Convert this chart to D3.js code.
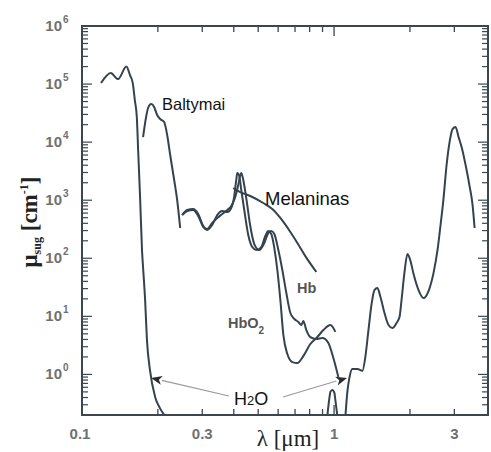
<!DOCTYPE html>
<html>
<head>
<meta charset="utf-8">
<script src="https://cdn.jsdelivr.net/npm/d3@7"></script>
<style>
  html, body { margin: 0; padding: 0; background: #fff; }
  svg { display: block; }
</style>
</head>
<body>
<svg id="chart" width="491" height="452"></svg>
<script>
// Absorption coefficient spectra, [wavelength in µm, µ in cm^-1]
const waterUV = [[0.119,1.04e5],[0.130,1.55e5],[0.139,1.22e5],[0.150,2.0e5],[0.155,1.43e5],[0.159,1.04e5],
  [0.162,5.3e4],[0.165,2.7e4],[0.167,7300],[0.170,1120],[0.173,138],[0.175,62],[0.178,19],[0.181,3.9],
  [0.186,1.2],[0.195,0.41],[0.204,0.26],[0.214,0.19]];
const waterBand = [[0.940,0.19],[0.958,0.39],[0.967,0.50],[0.984,0.54],[1.003,0.48],[1.012,0.36],[1.031,0.19]];
const waterIR = [[1.109,0.19],[1.129,0.50],[1.150,0.87],[1.182,1.24],[1.238,1.24],[1.295,1.15],[1.332,2.07],
  [1.369,5.8],[1.407,15.7],[1.446,28.4],[1.486,30.7],[1.528,21.5],[1.585,11.4],[1.644,7.1],[1.705,6.3],
  [1.769,7.7],[1.818,9.7],[1.852,19.1],[1.903,58],[1.955,118],[2.010,90],[2.066,54],[2.163,28.4],
  [2.264,20.7],[2.370,27.3],[2.481,56],[2.573,139],[2.645,374],[2.719,1090],[2.795,4040],[2.872,1.0e4],
  [2.951,1.68e4],[3.034,1.82e4],[3.119,1.22e4],[3.206,8240],[3.325,4040],[3.448,1750],[3.544,826],[3.610,332]];
const proteins = [[0.1747,1.22e4],[0.1796,2.71e4],[0.1829,3.87e4],[0.188,4.53e4],[0.1933,4.03e4],[0.1986,2.93e4],
  [0.2042,2.5e4],[0.2118,2.22e4],[0.2177,1.33e4],[0.2238,6010],[0.2321,2230],[0.2385,1010],[0.2452,332]];
const hb = [[0.2496,556],[0.2614,678],[0.2761,705],[0.2891,578],[0.3026,360],[0.3138,319],[0.3285,405],
  [0.3440,494],[0.3601,578],[0.3770,678],[0.3909,795],[0.4055,1135],[0.4168,1830],[0.4245,2720],[0.4284,2940],
  [0.4363,2230],[0.4484,1090],[0.4651,360],[0.4824,176],[0.5050,139],[0.5286,183],[0.5483,272],[0.5636,295],
  [0.5794,262],[0.6011,139],[0.6234,62.8],[0.6466,25.2],[0.6708,11.4],[0.6958,9.0],[0.7218,8.0],[0.7418,7.1],
  [0.7551,8.3],[0.7762,5.8],[0.8051,4.4],[0.8507,4.07],[0.8985,4.24],[0.9493,3.48],[0.9936,1.92],[1.040,0.90]];
const hbO2 = [[0.2496,556],[0.2614,652],[0.2761,678],[0.2891,535],[0.3026,346],[0.3138,307],[0.3285,374],
  [0.3440,556],[0.3601,652],[0.3770,626],[0.3909,734],[0.4018,1180],[0.4092,2230],[0.4130,2940],[0.4206,2610],
  [0.4284,1500],[0.4403,678],[0.4567,252],[0.4737,156],[0.4912,139],[0.5143,156],[0.5335,242],[0.5483,295],
  [0.5636,262],[0.5794,150],[0.5956,62.8],[0.6122,19.1],[0.6292,4.8],[0.6526,2.24],[0.6832,1.63],[0.7152,1.57],
  [0.7551,2.07],[0.8051,3.34],[0.8585,4.4],[0.9068,5.8],[0.9667,7.1],[1.012,5.4]];
const melanin = [[0.398,1620],[0.4245,1380],[0.4651,1180],[0.5238,895],[0.5688,705],[0.6122,494],
  [0.6708,283],[0.7152,183],[0.7691,109],[0.8507,58]];

// Axis ticks
const xTickLabels = [0.1, 0.3, 1, 3];
const xMinorTicks = [0.2, 0.3, 0.4, 0.5, 0.6, 0.7, 0.8, 0.9, 2, 3];
const xMajorTicks = [1];
const yDecades = [0, 1, 2, 3, 4, 5, 6];

// Arrow targets on the water curve: [wavelength, µ]
const waterArrowTips = [[0.188, 0.87], [1.125, 0.87]];

const margin = { left: 82, right: 3, top: 26, bottom: 37 };
const W = 491, H = 452;
const svg = d3.select("#chart");

const x = d3.scaleLog().domain([0.1, 4.08]).range([margin.left, W - margin.right]);
const y = d3.scaleLog().domain([0.2, 1e6]).range([H - margin.bottom, margin.top]);

const axisColor = "#3a4650";
const curveColor = "#34434d";
const tickTextColor = "#707070";

svg.append("defs").append("clipPath").attr("id", "plot-clip")
  .append("rect")
  .attr("x", x.range()[0]).attr("y", y.range()[1])
  .attr("width", x.range()[1] - x.range()[0])
  .attr("height", y.range()[0] - y.range()[1]);

// Curves
const line = d3.line()
  .x(d => x(d[0]))
  .y(d => y(d[1]))
  .curve(d3.curveMonotoneX);

const curves = svg.append("g").attr("clip-path", "url(#plot-clip)");
[waterUV, waterBand, waterIR, proteins, hb, hbO2, melanin].forEach(series => {
  curves.append("path")
    .datum(series)
    .attr("d", line)
    .attr("fill", "none")
    .attr("stroke", curveColor)
    .attr("stroke-width", 2)
    .attr("stroke-linejoin", "round");
});

// Frame
const [x0, x1] = x.range();
const [y0, y1] = y.range();
svg.append("rect")
  .attr("x", x0).attr("y", y1)
  .attr("width", x1 - x0).attr("height", y0 - y1)
  .attr("fill", "none").attr("stroke", axisColor).attr("stroke-width", 2);

// Inward ticks, x: bottom and top
const xt = svg.append("g").attr("stroke", axisColor).attr("stroke-width", 1.3);
xMinorTicks.forEach(v => {
  xt.append("line").attr("x1", x(v)).attr("x2", x(v)).attr("y1", y0).attr("y2", y0 - 6);
  xt.append("line").attr("x1", x(v)).attr("x2", x(v)).attr("y1", y1).attr("y2", y1 + 6);
});
xMajorTicks.forEach(v => {
  xt.append("line").attr("x1", x(v)).attr("x2", x(v)).attr("y1", y0).attr("y2", y0 - 10);
  xt.append("line").attr("x1", x(v)).attr("x2", x(v)).attr("y1", y1).attr("y2", y1 + 10);
});

// Inward ticks, y: left and right
const yt = svg.append("g").attr("stroke", axisColor).attr("stroke-width", 1.2);
const yTicks = [];
for (let e = -1; e <= 6; e++) {
  for (let m = 1; m <= 9; m++) {
    const v = m * Math.pow(10, e);
    if (v >= 0.2 && v <= 1e6) yTicks.push({ v, major: m === 1 });
  }
}
yTicks.forEach(t => {
  const len = t.major ? 10 : 6;
  yt.append("line").attr("x1", x0).attr("x2", x0 + len).attr("y1", y(t.v)).attr("y2", y(t.v));
  yt.append("line").attr("x1", x1).attr("x2", x1 - len).attr("y1", y(t.v)).attr("y2", y(t.v));
});

// Tick labels
const tickFont = "'Liberation Sans', Arial, sans-serif";
svg.append("g").selectAll("text")
  .data(xTickLabels)
  .join("text")
  .attr("x", d => x(d) - (d === 0.1 ? 2 : 0))
  .attr("y", y0 + 24)
  .attr("text-anchor", "middle")
  .attr("font-family", tickFont)
  .attr("font-size", 15)
  .attr("font-weight", "bold")
  .attr("fill", tickTextColor)
  .text(d => String(d));

const yl = svg.append("g")
  .attr("font-family", tickFont)
  .attr("fill", tickTextColor)
  .attr("font-weight", "bold");
yDecades.forEach(e => {
  const py = y(Math.pow(10, e));
  yl.append("text")
    .attr("x", x0 - 20).attr("y", py + 5)
    .attr("text-anchor", "end")
    .attr("font-size", 15)
    .text("10");
  yl.append("text")
    .attr("x", x0 - 19).attr("y", py - 3)
    .attr("font-size", 10)
    .text(String(e));
});

// Axis titles
const xTitle = svg.append("text")
  .attr("x", 288).attr("y", H - 6)
  .attr("text-anchor", "middle")
  .attr("font-family", "'Liberation Serif', 'Times New Roman', serif")
  .attr("font-size", 23)
  .attr("fill", "#222");
xTitle.text("λ [μm]");

const yTitle = svg.append("text")
  .attr("transform", "translate(37,222) rotate(-90)")
  .attr("text-anchor", "middle")
  .attr("font-family", "'Liberation Serif', 'Times New Roman', serif")
  .attr("font-weight", "bold")
  .attr("font-size", 23)
  .attr("fill", "#222");
yTitle.append("tspan").text("μ");
yTitle.append("tspan").attr("font-size", 12).attr("dy", 4).text("sug");
yTitle.append("tspan").attr("dy", -4).text(" [cm");
yTitle.append("tspan").attr("font-size", 12).attr("dy", -9).text("-1");
yTitle.append("tspan").attr("dy", 9).text("]");

// Series labels
const labelFont = "'Liberation Sans', Arial, sans-serif";
svg.append("text").attr("x", 162).attr("y", 110)
  .attr("font-family", labelFont).attr("font-size", 16.5).attr("fill", "#111")
  .text("Baltymai");
svg.append("text").attr("x", 265).attr("y", 205)
  .attr("font-family", labelFont).attr("font-size", 18.5).attr("fill", "#111")
  .text("Melaninas");
svg.append("text").attr("x", 297).attr("y", 293)
  .attr("font-family", labelFont).attr("font-size", 14.5).attr("font-weight", "bold").attr("fill", "#555")
  .text("Hb");
const hbo = svg.append("text").attr("x", 228).attr("y", 328)
  .attr("font-family", labelFont).attr("font-size", 14.5).attr("font-weight", "bold").attr("fill", "#555");
hbo.append("tspan").text("HbO");
hbo.append("tspan").attr("font-size", 10).attr("dy", 6).text("2");

const h2o = svg.append("text").attr("x", 234).attr("y", 405)
  .attr("font-family", labelFont).attr("font-size", 18).attr("fill", "#111");
h2o.append("tspan").text("H");
h2o.append("tspan").attr("font-size", 13).text("2");
h2o.append("tspan").text("O");

// Arrows from the H2O label to the water curve
const arrowStarts = [[229, 396], [283, 397]];
const arrows = svg.append("g");
waterArrowTips.forEach((tip, i) => {
  const tx = x(tip[0]), ty = y(tip[1]);
  const [sx, sy] = arrowStarts[i];
  const ang = Math.atan2(ty - sy, tx - sx);
  const len = 11, half = 4.5;
  const bx = tx - len * Math.cos(ang), by = ty - len * Math.sin(ang);
  arrows.append("line")
    .attr("x1", sx).attr("y1", sy).attr("x2", bx).attr("y2", by)
    .attr("stroke", "#9a9a9a").attr("stroke-width", 1.1);
  const px = -Math.sin(ang) * half, py = Math.cos(ang) * half;
  arrows.append("path")
    .attr("d", `M${tx},${ty}L${bx + px},${by + py}L${bx + 3 * Math.cos(ang)},${by + 3 * Math.sin(ang)}L${bx - px},${by - py}Z`)
    .attr("fill", "#2a2a2a");
});
</script>
</body>
</html>
